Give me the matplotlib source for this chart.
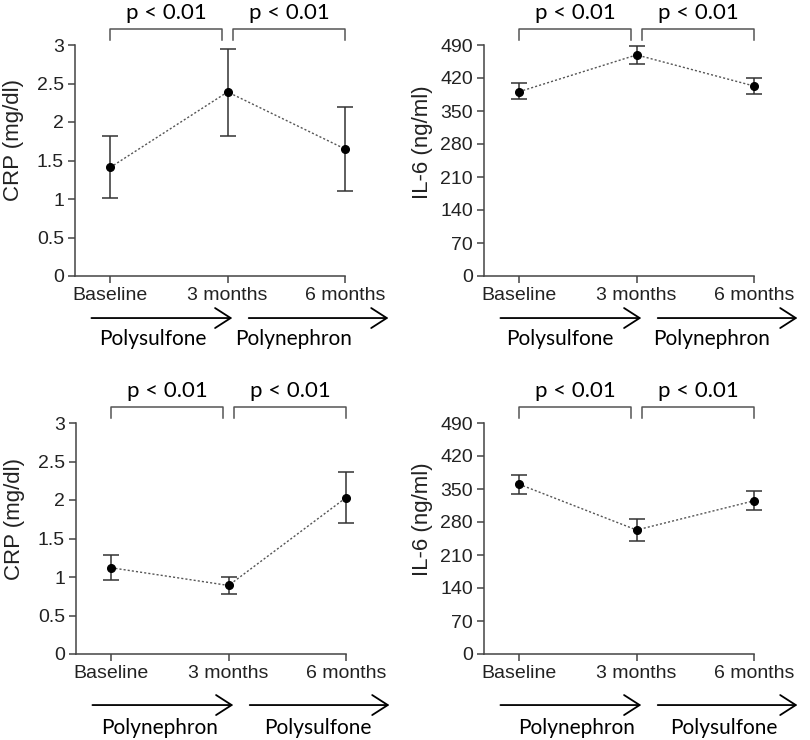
import matplotlib
matplotlib.use('Agg')
import matplotlib.pyplot as plt
import numpy as np

# data
times = ['Baseline', '3 months', '6 months']

crp_top = [1.41, 2.39, 1.65]
crp_top_lo = [1.01, 1.82, 1.10]
crp_top_hi = [1.82, 2.95, 2.19]

il6_top = [391, 469, 403]
il6_top_lo = [375, 450, 387]
il6_top_hi = [409, 488, 419]

crp_bot = [1.12, 0.89, 2.03]
crp_bot_lo = [0.96, 0.78, 1.70]
crp_bot_hi = [1.28, 1.00, 2.36]

il6_bot = [360, 263, 325]
il6_bot_lo = [339, 240, 305]
il6_bot_hi = [380, 286, 345]

crp_ticks = [0, 0.5, 1, 1.5, 2, 2.5, 3]
crp_ticklabels = ['0', '0.5', '1', '1.5', '2', '2.5', '3']
il6_ticks = [0, 70, 140, 210, 280, 350, 420, 490]

p_labels = ['p < 0.01', 'p < 0.01']
treat_top = ['Polysulfone', 'Polynephron']
treat_bot = ['Polynephron', 'Polysulfone']

plt.rcParams['font.family'] = ['Liberation Sans', 'DejaVu Sans']

W, H = 810, 740
fig = plt.figure(figsize=(W / 100, H / 100), dpi=100)

AXC = '#444444'
TXT = '#222222'


def panel(x0, ytop, ybot, mean, lo, hi, ticks, ticklabels, ylabel, treat,
          arrow_y, lab_y, lab_x, ylab_y):
    ax = fig.add_axes([x0 / W, 1 - ybot / H, 270 / W, (ybot - ytop) / H])
    x = np.arange(len(times))
    mean = np.array(mean)
    err = [mean - np.array(lo), np.array(hi) - mean]
    ax.plot(x, mean, ls=(0, (1.5, 1.5)), color='#555555', lw=1.0, zorder=2)
    ax.errorbar(x, mean, yerr=err, fmt='o', color='black', ms=5.5,
                ecolor='#333333', elinewidth=1.1, capsize=6, capthick=1.1,
                clip_on=False, zorder=3)
    ax.set_xlim(-0.3, 2)
    ax.set_ylim(ticks[0], ticks[-1])
    ax.set_xticks(x)
    ax.set_xticklabels(times, fontsize=14, color=TXT)
    ax.set_yticks(ticks)
    ax.set_yticklabels(ticklabels, fontsize=14, color=TXT)
    ax.tick_params(length=5, width=1.1, color=AXC, pad=3)
    for s in ['top', 'right']:
        ax.spines[s].set_visible(False)
    for s in ['left', 'bottom']:
        ax.spines[s].set_color(AXC)
        ax.spines[s].set_linewidth(1.1)
    ax.set_ylabel(ylabel, fontsize=16, color=TXT)
    ax.yaxis.set_label_coords(-0.19, ylab_y)

    tr = ax.get_xaxis_transform()
    # brackets with p values
    for (a, b), p in zip([(0, 0.953), (1.047, 2)], p_labels):
        ax.plot([a, a, b, b], [1.022, 1.069, 1.069, 1.022], color='#555555',
                lw=1.1, transform=tr, clip_on=False)
        ax.text((a + b) / 2, 1.139, p, transform=tr, ha='center', va='center',
                fontsize=16, family='Lato', color='black')
    # treatment arrows
    for (a, b), name, lx in zip([(-0.16, 1.04), (1.18, 2.37)], treat, lab_x):
        ax.annotate('', xy=(b, arrow_y), xytext=(a, arrow_y), xycoords=tr,
                    textcoords=tr,
                    arrowprops=dict(arrowstyle='->,head_length=0.7,head_width=0.45',
                                    lw=1.3, color='black', mutation_scale=16,
                                    shrinkA=0, shrinkB=0))
        ax.text(lx, lab_y, name, transform=tr, ha='center', va='center',
                fontsize=15, family='Lato', color='black')
    return ax


panel(75, 45, 276, crp_top, crp_top_lo, crp_top_hi, crp_ticks, crp_ticklabels,
      'CRP (mg/dl)', treat_top, -0.182, -0.273, [0.36, 1.56], 0.59)
panel(484, 45, 276, il6_top, il6_top_lo, il6_top_hi, il6_ticks,
      [str(t) for t in il6_ticks], 'IL-6 (ng/ml)', treat_top, -0.182, -0.273,
      [0.35, 1.64], 0.58)
panel(76, 423, 654, crp_bot, crp_bot_lo, crp_bot_hi, crp_ticks, crp_ticklabels,
      'CRP (mg/dl)', treat_bot, -0.221, -0.320, [0.41, 1.76], 0.585)
panel(484, 423, 654, il6_bot, il6_bot_lo, il6_bot_hi, il6_ticks,
      [str(t) for t in il6_ticks], 'IL-6 (ng/ml)', treat_bot, -0.221, -0.320,
      [0.49, 1.74], 0.585)

fig.savefig('out.png', dpi=100, facecolor='white')
